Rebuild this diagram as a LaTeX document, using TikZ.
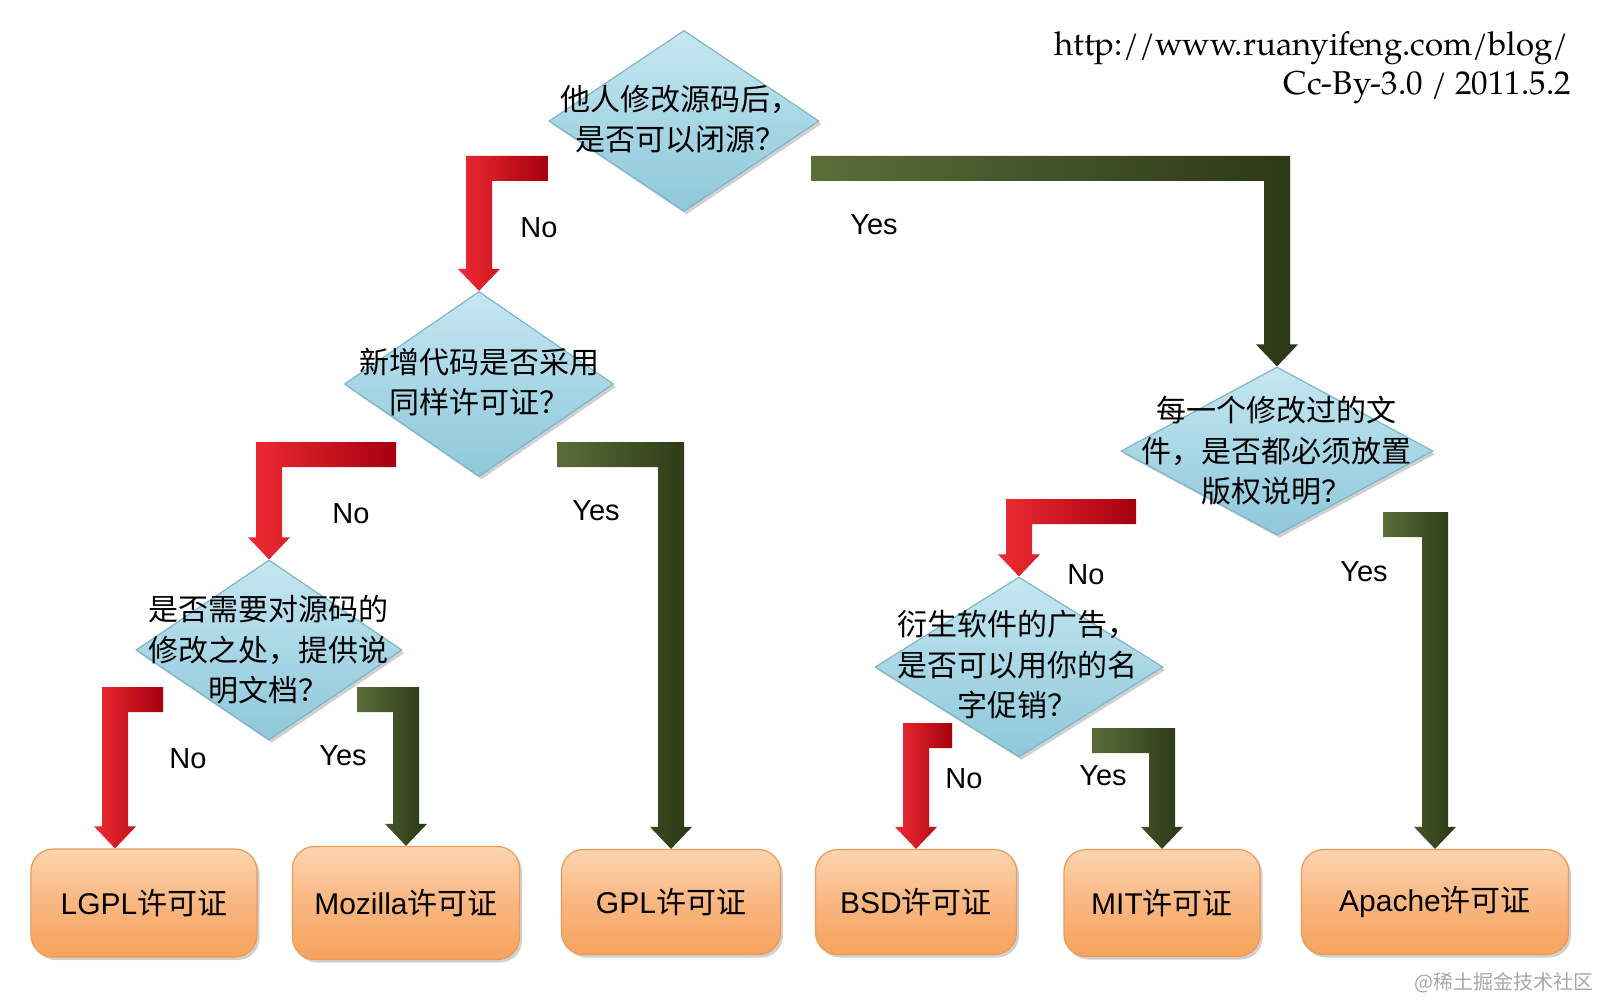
\documentclass[tikz,border=0pt]{standalone}
\usepackage{fontspec}
\newfontfamily\cjk{Noto Sans CJK SC}
\newfontfamily\lab{Liberation Sans}
\newfontfamily\urlfont{texgyrepagella-regular.otf}
\usetikzlibrary{shapes.geometric,shadows,calc}
\definecolor{diatop}{HTML}{C6E7F1}
\definecolor{diamid}{HTML}{A8D7E5}
\definecolor{diabot}{HTML}{8FC8DA}
\definecolor{diaedge}{HTML}{7DB5C9}
\definecolor{lictop}{HTML}{FCD5B0}
\definecolor{licmid}{HTML}{F9B680}
\definecolor{licbot}{HTML}{F6A35C}
\definecolor{licedge}{HTML}{EB9B55}
\definecolor{redlight}{HTML}{EF2B33}
\definecolor{reddark}{HTML}{A5000D}
\definecolor{grnlight}{HTML}{5C6D38}
\definecolor{grndark}{HTML}{2B3716}
\definecolor{wmgray}{HTML}{A8A8A8}
% elbow block arrow: #1 style, #2 outer top corner of the bar, #3 tip, #4 side (+1 bar to the right, -1 bar to the left)
\newcommand\elbowarrow[4]{%
  \path[#1] let \p1=(#2), \p2=(#3) in
    (\x1,\y1) -- ({\x2-(#4)*13pt},\y1) -- ({\x2-(#4)*13pt},{\y2+22pt})
    -- ({\x2-(#4)*21pt},{\y2+22pt}) -- (\x2,\y2) -- ({\x2+(#4)*21pt},{\y2+22pt})
    -- ({\x2+(#4)*13pt},{\y2+22pt}) -- ({\x2+(#4)*13pt},{\y1-25pt}) -- (\x1,{\y1-25pt}) -- cycle;}
\begin{document}
\begin{tikzpicture}[x=1pt,y=-1pt,
  dia/.style={diamond, draw=diaedge, line width=1.2pt, top color=diatop, bottom color=diabot, middle color=diamid, inner sep=0pt,
    drop shadow={shadow xshift=2.5pt, shadow yshift=-3pt, opacity=0.3, fill=black!60}},
  dtext/.style={align=center, inner sep=0pt, font=\cjk\fontsize{30}{40.5}\selectfont},
  lic/.style={rectangle, rounded corners=22pt, draw=licedge, line width=1.2pt, top color=lictop, bottom color=licbot, middle color=licmid,
    inner sep=0pt, font=\lab\fontsize{30}{36}\selectfont,
    drop shadow={shadow xshift=2.5pt, shadow yshift=-3pt, opacity=0.3, fill=black!60}},
  yn/.style={font=\lab\fontsize{29}{34}\selectfont, inner sep=0pt},
  noarrow/.style={left color=redlight, right color=reddark},
  yesarrow/.style={left color=grnlight, right color=grndark},
]
\useasboundingbox (0,0) rectangle (1600,1000);
\fill[white] (0,0) rectangle (1600,1000);

% decision diamonds
\node[dia, minimum width=270pt, minimum height=181pt] (d1) at (684,121) {};
\node[dia, minimum width=269pt, minimum height=185pt] (d2) at (479,384) {};
\node[dia, minimum width=312pt, minimum height=168pt] (d3) at (1277,451) {};
\node[dia, minimum width=266pt, minimum height=180pt] (d4) at (269,650) {};
\node[dia, minimum width=288pt, minimum height=180pt] (d5) at (1019,667) {};

\node[dtext] (t1) at (680,119) {他人修改源码后，\\是否可以闭源？};
\node[dtext] (t2) at (479,382) {新增代码是否采用\\同样许可证？};
\node[dtext] (t3) at (1276,451) {每一个修改过的文\\件，是否都必须放置\\版权说明？};
\node[dtext] (t4) at (268,650) {是否需要对源码的\\修改之处，提供说\\明文档？};
\node[dtext] (t5) at (1017,665) {衍生软件的广告，\\是否可以用你的名\\字促销？};

% licence boxes
\node[lic, minimum width=226pt, minimum height=108pt] (lgpl) at (144,903) {LGPL{\cjk 许可证}};
\node[lic, minimum width=227pt, minimum height=113pt] (moz) at (406,903) {Mozilla{\cjk 许可证}};
\node[lic, minimum width=219pt, minimum height=105pt] (gpl) at (671,902) {GPL{\cjk 许可证}};
\node[lic, minimum width=201pt, minimum height=105pt] (bsd) at (916,902) {BSD{\cjk 许可证}};
\node[lic, minimum width=196pt, minimum height=107pt] (mit) at (1162,903) {MIT{\cjk 许可证}};
\node[lic, minimum width=267pt, minimum height=105pt] (apache) at (1435,902) {Apache{\cjk 许可证}};

% free ends of the elbow arrows
\coordinate (n1s) at (548,156);
\coordinate (y1s) at (811,156);
\coordinate (n2s) at (396,442);
\coordinate (y2s) at (557,442);
\coordinate (n3s) at (163,687);
\coordinate (y3s) at (357,687);
\coordinate (n4s) at (1136,499);
\coordinate (y4s) at (1383,512);
\coordinate (n5s) at (952,723);
\coordinate (y5s) at (1092,728);
\coordinate (lgplin) at ([xshift=-29pt]lgpl.north);

\elbowarrow{noarrow}{n1s}{d2.north}{1}
\elbowarrow{yesarrow}{y1s}{d3.north}{-1}
\elbowarrow{noarrow}{n2s}{d4.north}{1}
\elbowarrow{yesarrow}{y2s}{gpl.north}{-1}
\elbowarrow{noarrow}{n3s}{lgplin}{1}
\elbowarrow{yesarrow}{y3s}{moz.north}{-1}
\elbowarrow{noarrow}{n4s}{d5.north}{1}
\elbowarrow{yesarrow}{y4s}{apache.north}{-1}
\elbowarrow{noarrow}{n5s}{bsd.north}{1}
\elbowarrow{yesarrow}{y5s}{mit.north}{-1}

% labels
\node[yn] (l1) at (539,228) {No};
\node[yn] (l2) at (874,225) {Yes};
\node[yn] (l3) at (351,514) {No};
\node[yn] (l4) at (596,511) {Yes};
\node[yn] (l5) at (188,759) {No};
\node[yn] (l6) at (343,756) {Yes};
\node[yn] (l7) at (1086,575) {No};
\node[yn] (l8) at (1364,572) {Yes};
\node[yn] (l9) at (964,779) {No};
\node[yn] (l10) at (1103,776) {Yes};

% header
\node[anchor=base east, inner sep=0pt, font=\urlfont\fontsize{33}{40}\selectfont] (url) at (1569,56) {http://www.ruanyifeng.com/blog/};
\node[anchor=base east, inner sep=0pt, font=\urlfont\fontsize{33}{40}\selectfont] (lic) at (1571,95) {Cc-By-3.0 / 2011.5.2};

% watermark
\node[anchor=east, inner sep=0pt, text=wmgray, font=\cjk\fontsize{20}{24}\selectfont] (wm) at (1594,983) {@稀土掘金技术社区};
\end{tikzpicture}
\end{document}
